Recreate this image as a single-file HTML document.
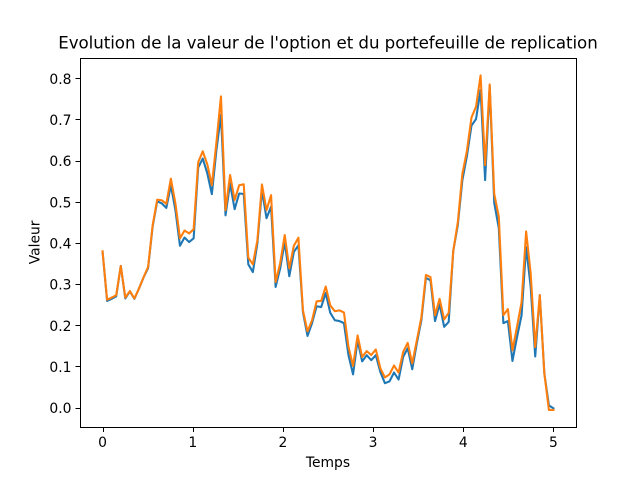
<!DOCTYPE html>
<html>
<head>
<meta charset="utf-8">
<title>Evolution de la valeur de l'option</title>
<style>
html,body{margin:0;padding:0;background:#fff;}
svg{display:block;}
text{font-family:"DejaVu Sans",sans-serif;fill:#000;}
</style>
</head>
<body>
<svg id="chart" xmlns="http://www.w3.org/2000/svg" width="640" height="480" viewBox="0 0 640 480"></svg>
<script>
const optionValues = [.38,.26,.265,.271,.345,.266,.283,.265,.29,.317,.34,.441,.502,.497,.486,.541,.4805,.394,.414,.403,.412,.584,.606,.57,.5195,.6265,.712,.468,.5455,.483,.521,.52,.349,.33,.4,.529,.461,.489,.294,.339,.403,.32,.379,.395,.233,.175,.206,.247,.245,.279,.231,.213,.211,.206,.128,.0815,.164,.113,.128,.116,.128,.087,.06,.0645,.086,.069,.124,.145,.094,.157,.213,.316,.31,.211,.252,.197,.209,.3815,.444,.5535,.612,.686,.702,.7725,.5535,.782,.498,.437,.206,.211,.114,.172,.225,.391,.294,.125,.274,.084,.006,-.001];
const portfolioValues = [.3805,.263,.268,.274,.345,.268,.284,.266,.29,.3175,.3425,.444,.506,.5046,.496,.557,.497,.412,.431,.424,.434,.597,.6235,.592,.541,.645,.757,.4805,.566,.505,.541,.5435,.365,.349,.4075,.543,.4805,.517,.306,.3516,.42,.339,.394,.4136,.237,.186,.213,.259,.26,.295,.249,.235,.237,.232,.148,.102,.176,.1236,.138,.1285,.142,.096,.074,.0815,.103,.086,.136,.158,.108,.164,.22,.323,.318,.225,.265,.215,.231,.381,.451,.5685,.6245,.7055,.732,.808,.59,.786,.52,.465,.225,.24,.14,.197,.257,.429,.327,.148,.274,.084,-.005,-.005];
const xTickValues = [0,1,2,3,4,5];
const yTickValues = [0,0.1,0.2,0.3,0.4,0.5,0.6,0.7,0.8];
const yTickLabels = ["0.0","0.1","0.2","0.3","0.4","0.5","0.6","0.7","0.8"];
const maturity = 5;

const NS = "http://www.w3.org/2000/svg";
const svg = document.getElementById("chart");
const axL = 80, axR = 576, axT = 58, axB = 427;

function xScale(t){ return 102.55 + t * 90.18; }
function yScale(v){ return 407.9 - v * 411.5; }

function mk(tag, attrs, parent){
  const el = document.createElementNS(NS, tag);
  for (const k in attrs) el.setAttribute(k, attrs[k]);
  (parent || svg).appendChild(el);
  return el;
}

const bg = mk("rect", {x:axL, y:axT, width:axR-axL, height:axB-axT, fill:"#fff"});



function drawSeries(values, color, name){
  const pts = values.map((v,i)=> xScale(i*maturity/(values.length-1)).toFixed(2)+","+yScale(v).toFixed(2)).join(" ");
  const line = mk("polyline", {points:pts, fill:"none", stroke:color, "stroke-width":2.08, "stroke-linejoin":"round", "stroke-linecap":"square"});
  
  
}
drawSeries(optionValues, "#1f77b4", "option-value-line");
drawSeries(portfolioValues, "#ff7f0e", "replication-portfolio-line");

xTickValues.forEach(t=>{
  const x = Math.round(xScale(t))+0.5;
  const tick = mk("line", {x1:x, x2:x, y1:axB+0.5, y2:axB+5, stroke:"#000", "stroke-width":1, "shape-rendering":"crispEdges"});
  
  
  const label = mk("text", {x:xScale(t), y:447, "text-anchor":"middle", "font-size":"13.89px"});
  label.textContent = String(t);
  
  
});

yTickValues.forEach((v,i)=>{
  const y = Math.floor(yScale(v)+0.1)+0.5;
  const tick = mk("line", {x1:axL-4.5, x2:axL+0.5, y1:y, y2:y, stroke:"#000", "stroke-width":1, "shape-rendering":"crispEdges"});
  
  
  const label = mk("text", {x:axL-8.5, y:yScale(v)+5.2, "text-anchor":"end", "font-size":"13.89px"});
  label.textContent = yTickLabels[i];
  
  
});

const frame = mk("rect", {x:axL+0.5, y:axT+0.5, width:axR-axL, height:axB-axT, fill:"none", stroke:"#000", "stroke-width":1, "shape-rendering":"crispEdges"});



const title = mk("text", {x:328, y:48.5, "text-anchor":"middle", "font-size":"16.67px", textLength:"539.5", lengthAdjust:"spacing"});
title.textContent = "Evolution de la valeur de l'option et du portefeuille de replication";



const xTitle = mk("text", {x:328, y:467, "text-anchor":"middle", "font-size":"13.89px"});
xTitle.textContent = "Temps";



const yTitle = mk("text", {x:0, y:0, "text-anchor":"middle", "font-size":"13.89px", transform:"translate(39.5,242.4) rotate(-90)"});
yTitle.textContent = "Valeur";


</script>
</body>
</html>
